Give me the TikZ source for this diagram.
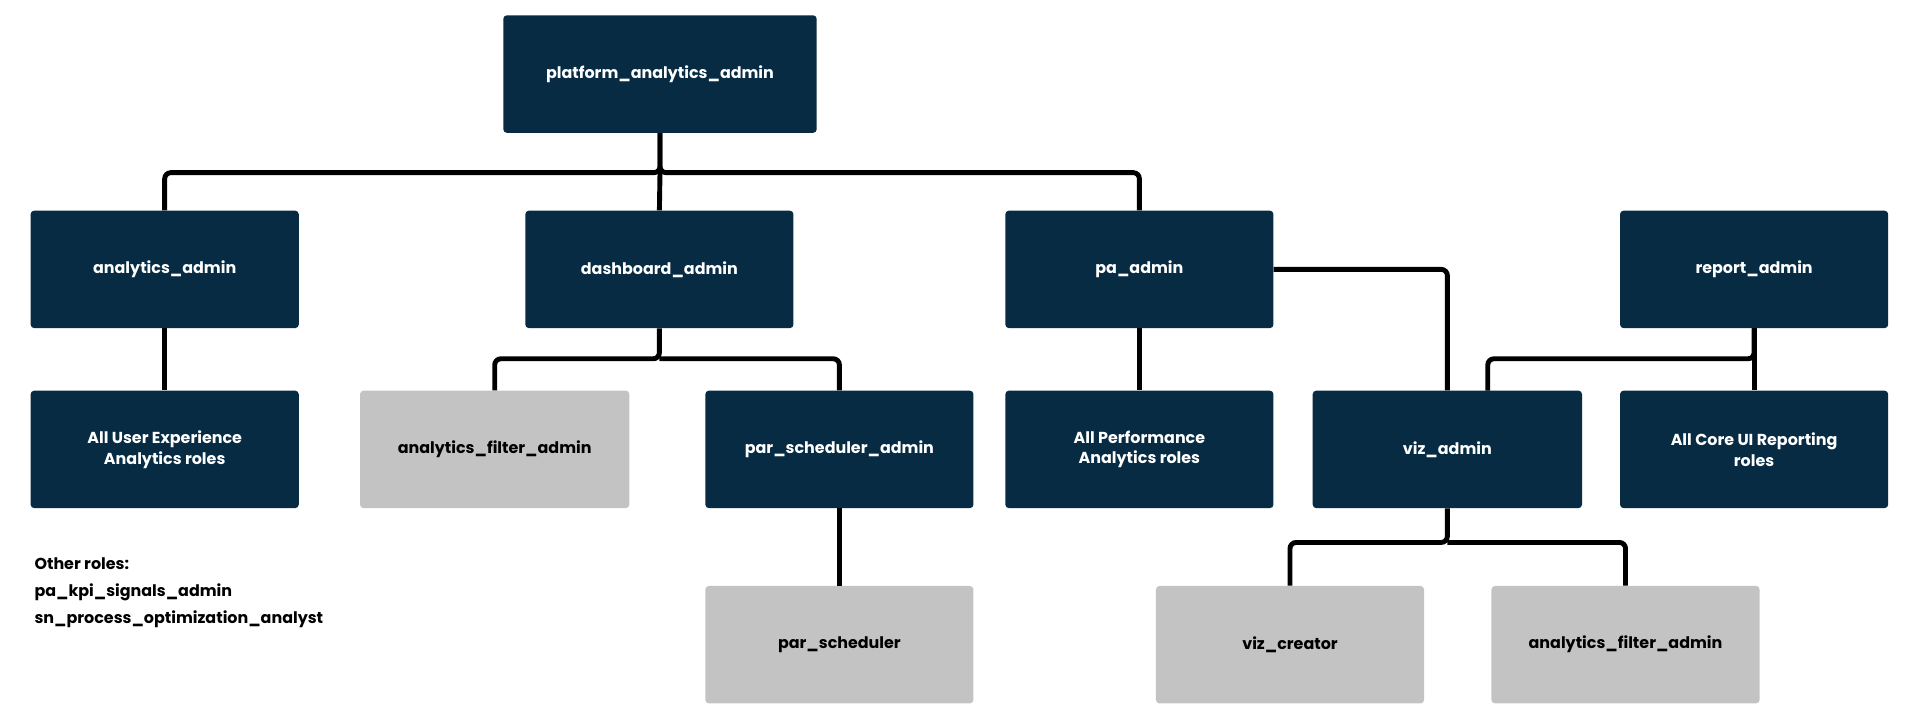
\documentclass[tikz,border=0pt]{standalone}
\usepackage{fontspec}
\setmainfont{Poppins}
\definecolor{navy}{HTML}{062B43}
\definecolor{lgray}{HTML}{C3C3C3}
\begin{document}
\begin{tikzpicture}[x=1pt,y=-1pt,
 box/.style={rectangle,rounded corners=3pt,minimum width=219pt,minimum height=96pt,inner sep=2pt,align=center,font=\fontsize{13}{17}\selectfont\bfseries},
 dk/.style={box,fill=navy,text=white},
 gr/.style={box,fill=lgray,text=black},
 ln/.style={line width=4pt,rounded corners=5pt,black}]
\useasboundingbox (0,0) rectangle (1568,588);
\node[dk,minimum width=256pt] (pl) at (539,60.5) {platform\_analytics\_admin};
\node[dk] (aa) at (134.5,220) {analytics\_admin};
\node[dk] (da) at (538.5,220) {dashboard\_admin};
\node[dk] (pa) at (930.5,220) {pa\_admin};
\node[dk] (ra) at (1432.5,220) {report\_admin};
\node[dk] (ux) at (134.5,367) {All User Experience\\Analytics roles};
\node[gr,minimum width=220pt] (af1) at (404,367) {analytics\_filter\_admin};
\node[dk] (psa) at (685.5,367) {par\_scheduler\_admin};
\node[dk] (apa) at (930.5,367) {All Performance\\Analytics roles};
\node[dk,minimum width=220pt] (viz) at (1182,367) {viz\_admin};
\node[dk] (core) at (1432.5,367) {All Core UI Reporting\\roles};
\node[gr] (ps) at (685.5,526.5) {par\_scheduler};
\node[gr] (vc) at (1053.5,526.5) {viz\_creator};
\node[gr] (af2) at (1327.5,526.5) {analytics\_filter\_admin};
\node[anchor=north west,align=left,font=\fontsize{13}{22}\selectfont\bfseries,inner sep=0pt] (other) at (28,455) {Other roles:\\pa\_kpi\_signals\_admin\\sn\_process\_optimization\_analyst};
\draw[ln] (pl.south) -- (539,141) -| (aa.north);
\draw[ln] (pl.south) -- (539,141) -| (pa.north);
\draw[ln] (539,141) -- (da.north);
\draw[ln] (aa) -- (ux);
\draw[ln] (da.south) -- (538.5,293) -| (af1.north);
\draw[ln] (538.5,293) -| (psa.north);
\draw[ln] (psa) -- (ps);
\draw[ln] (pa) -- (apa);
\draw[ln] (pa.east) -| (viz.north);
\draw[ln] (ra.south) -- (1432.5,293) -| (1215,319);
\draw[ln] (ra) -- (core);
\draw[ln] (viz.south) -- (1182,443) -| (vc.north);
\draw[ln] (1182,443) -| (af2.north);
\end{tikzpicture}
\end{document}
